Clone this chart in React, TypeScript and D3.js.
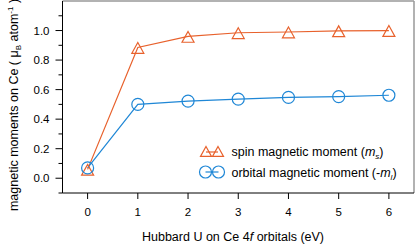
import React from "react";
import * as d3 from "d3";

const uValues = [0, 1, 2, 3, 4, 5, 6];
const spinMoment = [0.06, 0.885, 0.96, 0.985, 0.99, 0.998, 1.0];
const orbitalMoment = [0.07, 0.5, 0.522, 0.536, 0.547, 0.553, 0.562];
const yTicks = [0.0, 0.2, 0.4, 0.6, 0.8, 1.0];
const yMinorTicks = [-0.1, 0.1, 0.3, 0.5, 0.7, 0.9, 1.1];
const xTicks = [0, 1, 2, 3, 4, 5, 6];

const W = 415, H = 248;
const L = 62.5, R = 414, T = 1, B = 193;
const ORANGE = "#e8612c";
const BLUE = "#1f87d6";
const FONT = "'Liberation Sans', Arial, sans-serif";

export default function App() {
  const x = d3.scaleLinear().domain([-0.5, 6.5]).range([L, R]);
  const y = d3.scaleLinear().domain([-0.1, 1.2]).range([B, T]);
  const line = d3.line<number>().x((_, i) => x(uValues[i])).y((v) => y(v));
  const tri = (cx: number, cy: number, s = 6) =>
    `M${cx},${cy - s}L${cx + s},${cy + s * 0.8}L${cx - s},${cy + s * 0.8}Z`;

  return (
    <svg width={W} height={H} style={{ position: "absolute", left: 0, top: 0 }} fontFamily={FONT}>
      <rect x={0} y={0} width={W} height={H} fill="#fff" />
      {/* frame */}
      <line x1={L} x2={R} y1={T} y2={T} stroke="#999" strokeWidth={1.5} />
      <line x1={R} x2={R} y1={T} y2={B} stroke="#999" strokeWidth={1.5} />
      <line x1={L} x2={L} y1={T} y2={B} stroke="#000" strokeWidth={1} />
      <line x1={L} x2={R} y1={B} y2={B} stroke="#000" strokeWidth={1} />
      {/* y ticks */}
      {yTicks.map((t) => (
        <g key={"y" + t}>
          <line x1={L - 7} x2={L} y1={y(t)} y2={y(t)} stroke="#000" />
          <text x={L - 13} y={y(t) + 4} fontSize={11.5} textAnchor="end">{t.toFixed(1)}</text>
        </g>
      ))}
      {yMinorTicks.map((t) => (
        <line key={"ym" + t} x1={L - 4} x2={L} y1={y(t)} y2={y(t)} stroke="#000" />
      ))}
      {/* x ticks */}
      {xTicks.map((t) => (
        <g key={"x" + t}>
          <line x1={x(t)} x2={x(t)} y1={B} y2={B + 6} stroke="#000" />
          <text x={x(t)} y={y(-0.1) + 23} fontSize={11.5} textAnchor="middle">{t}</text>
        </g>
      ))}
      <text x={233} y={241} fontSize={12.5} textAnchor="middle">
        Hubbard U on Ce 4<tspan fontStyle="italic">f</tspan> orbitals (eV)
      </text>
      <text transform={`translate(18,${105}) rotate(-90)`} fontSize={12.5} textAnchor="middle">
        magnetic moments on Ce  ( μ<tspan fontSize={8} dy={3}>B</tspan><tspan dy={-3}> atom</tspan><tspan fontSize={8} dy={-5}>-1</tspan><tspan dy={5}> )</tspan>
      </text>
      {/* series */}
      <path d={line(spinMoment) || ""} fill="none" stroke={ORANGE} strokeWidth={1.2} />
      <path d={line(orbitalMoment) || ""} fill="none" stroke={BLUE} strokeWidth={1.2} />
      {spinMoment.map((v, i) => (
        <path key={"s" + i} d={tri(x(uValues[i]), y(v) + 1)} fill="none" stroke={ORANGE} strokeWidth={1.2} />
      ))}
      {orbitalMoment.map((v, i) => (
        <circle key={"o" + i} cx={x(uValues[i])} cy={y(v)} r={6} fill="none" stroke={BLUE} strokeWidth={1.2} />
      ))}
      {/* legend */}
      <g>
        <line x1={206} x2={218} y1={152} y2={152} stroke={ORANGE} strokeWidth={1.2} />
        <path d={tri(206, 152, 5.5)} fill="none" stroke={ORANGE} strokeWidth={1.2} />
        <path d={tri(218, 152, 5.5)} fill="none" stroke={ORANGE} strokeWidth={1.2} />
        <text x={231.5} y={156} fontSize={12.5}>
          spin magnetic moment (<tspan fontStyle="italic">m</tspan><tspan fontSize={8} dy={3} fontStyle="italic">s</tspan><tspan dy={-3}>)</tspan>
        </text>
        <line x1={205.5} x2={218.5} y1={172} y2={172} stroke={BLUE} strokeWidth={1.2} />
        <circle cx={205.5} cy={172} r={6} fill="none" stroke={BLUE} strokeWidth={1.2} />
        <circle cx={218.5} cy={172} r={6} fill="none" stroke={BLUE} strokeWidth={1.2} />
        <text x={231.5} y={176.5} fontSize={12.5}>
          orbital magnetic moment (-<tspan fontStyle="italic">m</tspan><tspan fontSize={8} dy={3} fontStyle="italic">l</tspan><tspan dy={-3}>)</tspan>
        </text>
      </g>
    </svg>
  );
}
